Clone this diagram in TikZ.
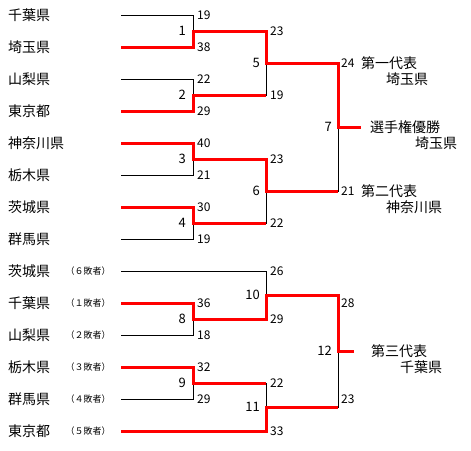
\documentclass[tikz,border=0pt]{standalone}
\usepackage{fontspec}
\setmainfont{Noto Sans CJK JP}
\usetikzlibrary{positioning}
\tikzset{
  team/.style={anchor=west,inner sep=0pt,font=\fontsize{14}{16}\selectfont},
  lost/.style={anchor=west,inner sep=0pt,font=\fontsize{9}{10}\selectfont},
  score/.style={anchor=west,inner sep=0pt,font=\fontsize{12}{14}\selectfont},
  game/.style={inner sep=0pt,font=\fontsize{13}{14}\selectfont},
  win/.style={draw=red,line width=3pt},
  lose/.style={draw=black,line width=0.9pt}
}
\begin{document}
\begin{tikzpicture}[x=1pt,y=-1pt]
  \useasboundingbox (0,0) rectangle (471,450);
  % teams and the start of their lines
  \foreach \n/\y/\t in {1/15/千葉県,2/47/埼玉県,3/79/山梨県,4/111/東京都,
      5/143/神奈川県,6/175/栃木県,7/207/茨城県,8/239/群馬県,
      9/271/茨城県,10/303/千葉県,11/335/山梨県,12/367/栃木県,
      13/399/群馬県,14/431/東京都}{
    \node[team] (t\n) at (8,\y) {\t};
    \coordinate (s\n) at (121,\y);
  }
  \foreach \n/\k in {9/６,10/１,11/２,12/３,13/４,14/５}
    \node[lost,right=15pt of t\n] (l\n) {（\k 敗者）};
  % junctions
  \coordinate (j1) at (193,31);  \coordinate (j2) at (193,95);
  \coordinate (j3) at (193,159); \coordinate (j4) at (193,223);
  \coordinate (j5) at (266,63);  \coordinate (j6) at (266,191);
  \coordinate (j7) at (338,127);
  \coordinate (j8) at (193,319); \coordinate (j9) at (193,383);
  \coordinate (j10) at (266,295); \coordinate (j11) at (266,407);
  \coordinate (j12) at (338,351);
  \coordinate (e7) at (361,127); \coordinate (e12) at (354,351);
  % losers
  \draw[lose] (s1) -| (j1);  \draw[lose] (s3) -| (j2);
  \draw[lose] (s6) -| (j3);  \draw[lose] (s8) -| (j4);
  \draw[lose] (j2) -| (j5);  \draw[lose] (j4) -| (j6);
  \draw[lose] (j6) -| (j7);
  \draw[lose] (s11) -| (j8); \draw[lose] (s13) -| (j9);
  \draw[lose] (s9) -| (j10); \draw[lose] (j9) -| (j11);
  \draw[lose] (j11) -| (j12);
  % winners
  \draw[win] (s2) -| (j1) -| (j5) -| (j7) -- (e7);
  \draw[win] (s4) -| (j2) -- (j2 -| j5);
  \draw[win] (s5) -| (j3) -| (j6) -- (j6 -| j7);
  \draw[win] (s7) -| (j4) -- (j4 -| j6);
  \draw[win] (s10) -| (j8) -| (j10) -| (j12) -- (e12);
  \draw[win] (s12) -| (j9) -- (j9 -| j11);
  \draw[win] (s14) -| (j11) -- (j11 -| j12);
  % game numbers
  \foreach \g in {1,2,3,4,8,9}
    \node[game,left=7pt of j\g] (g\g) {\g};
  \foreach \g in {5,6,7,10,11,12}
    \node[game,left=6pt of j\g] (g\g) {\g};
  % scores
  \foreach \y/\p in {15/19,47/38,79/22,111/29,143/40,175/21,207/30,239/19,
      303/36,335/18,367/32,399/29}
    \node[score] (a\y) at (197,\y) {\p};
  \foreach \y/\p in {31/23,95/19,159/23,223/22,271/26,319/29,383/22,431/33}
    \node[score] (b\y) at (270,\y) {\p};
  \foreach \y/\p in {63/24,191/21,303/28,399/23}
    \node[score] (c\y) at (341,\y) {\p};
  % results
  \node[team] (r1) at (361,63) {第一代表};
  \node[team] (r1b) at (386,79) {埼玉県};
  \node[team] (r2) at (361,191) {第二代表};
  \node[team] (r2b) at (386,207) {神奈川県};
  \node[team] (champ) at (370,127) {選手権優勝};
  \node[team] (champb) at (415,143) {埼玉県};
  \node[team] (r3) at (371,351) {第三代表};
  \node[team] (r3b) at (400,367) {千葉県};
\end{tikzpicture}
\end{document}
